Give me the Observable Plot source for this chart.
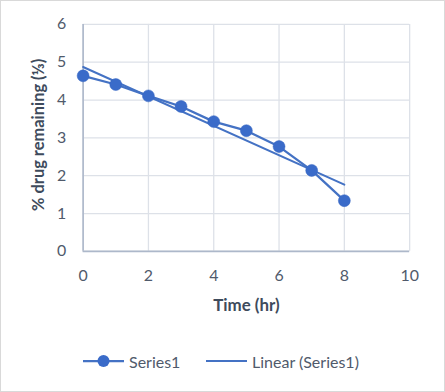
<!DOCTYPE html>
<html>
<head>
<meta charset="utf-8">
<script src="https://cdn.jsdelivr.net/npm/d3@7"></script>
<script src="https://cdn.jsdelivr.net/npm/@observablehq/plot@0.6"></script>
<style>
  html, body { margin: 0; padding: 0; background: #fff; }
  #chart { position: relative; width: 443px; height: 390px; border: 1px solid #d9d9d9; overflow: hidden; background:#fff; }
  #chart svg.plot { position: absolute; left: -1px; top: -1px; }
  #legend { position: absolute; left: 0; top: 348px; width: 445px; height: 24px; font-family: Lato, sans-serif; font-size: 16px; color: #505a6b; }
  #legend .item { position: absolute; top: 0; height: 24px; display: flex; align-items: center; }
</style>
</head>
<body>
<div id="chart"></div>
<script>
const timeHr = [0, 1, 2, 3, 4, 5, 6, 7, 8];
const drugRemaining = [4.64, 4.41, 4.11, 3.83, 3.43, 3.19, 2.77, 2.14, 1.34];
const xTicks = [0, 2, 4, 6, 8, 10];
const yTicks = [0, 1, 2, 3, 4, 5, 6];
const seriesName = "Series1";
const trendName = "Linear (Series1)";
const xLabel = "Time (hr)";
const yLabel = "% drug remaining (⅓)";

const blue = "#4472C4";
const textColor = "#505a6b";
const data = timeHr.map((t, i) => ({t, v: drugRemaining[i]}));

const plot = Plot.plot({
  width: 445,
  height: 330,
  marginLeft: 83,
  marginRight: 34,
  marginTop: 24,
  marginBottom: 78,
  style: {fontFamily: "Lato, sans-serif", fontSize: "16px", color: textColor, background: "transparent"},
  x: {domain: [0, 10]},
  y: {domain: [0, 6]},
  marks: [
    Plot.gridX(xTicks, {stroke: "#dde1e8", strokeOpacity: 1, strokeWidth: 1.3}),
    Plot.gridY(yTicks, {stroke: "#dde1e8", strokeOpacity: 1, strokeWidth: 1.3}),
    Plot.ruleX([0], {stroke: "#adb8ca", strokeWidth: 1.6}),
    Plot.ruleY([0], {stroke: "#adb8ca", strokeWidth: 1.6}),
    Plot.axisX(xTicks, {tickSize: 0, tickPadding: 18, label: null, fill: textColor, fontSize: 16}),
    Plot.axisY(yTicks, {tickSize: 0, tickPadding: 17, label: null, fill: textColor, fontSize: 16}),
    Plot.text([xLabel], {frameAnchor: "bottom", lineAnchor: "middle", textAnchor: "middle", dy: 54, fontWeight: "bold", fill: "#3e4b5c", fontSize: 17}),
    Plot.text([yLabel], {frameAnchor: "left", lineAnchor: "middle", textAnchor: "middle", dx: -45, dy: -3, rotate: -90, fontWeight: "bold", fill: "#3e4b5c", fontSize: 16.5}),
    Plot.linearRegressionY(data, {x: "t", y: "v", ci: 0, stroke: blue, strokeWidth: 2}),
    Plot.line(data, {x: "t", y: "v", stroke: blue, strokeWidth: 2.25}),
    Plot.dot(data, {x: "t", y: "v", r: 6, fill: "#3a6bc9", stroke: "#3566c2", strokeWidth: 0.5})
  ]
});
plot.classList.add("plot");
const chart = document.getElementById("chart");
chart.appendChild(plot);

const legend = document.createElement("div");
legend.id = "legend";
legend.innerHTML = `
  <div class="item" style="left:81px">
    <svg width="43" height="24"><line x1="1" x2="42" y1="12" y2="12" stroke="${blue}" stroke-width="2.25"/><circle cx="21.5" cy="12" r="6" fill="#3a6bc9"/></svg>
    <span style="margin-left:4px">${seriesName}</span>
  </div>
  <div class="item" style="left:204px">
    <svg width="43" height="24"><line x1="1" x2="42" y1="12" y2="12" stroke="${blue}" stroke-width="2"/></svg>
    <span style="margin-left:4px">${trendName}</span>
  </div>`;
chart.appendChild(legend);
</script>
</body>
</html>
